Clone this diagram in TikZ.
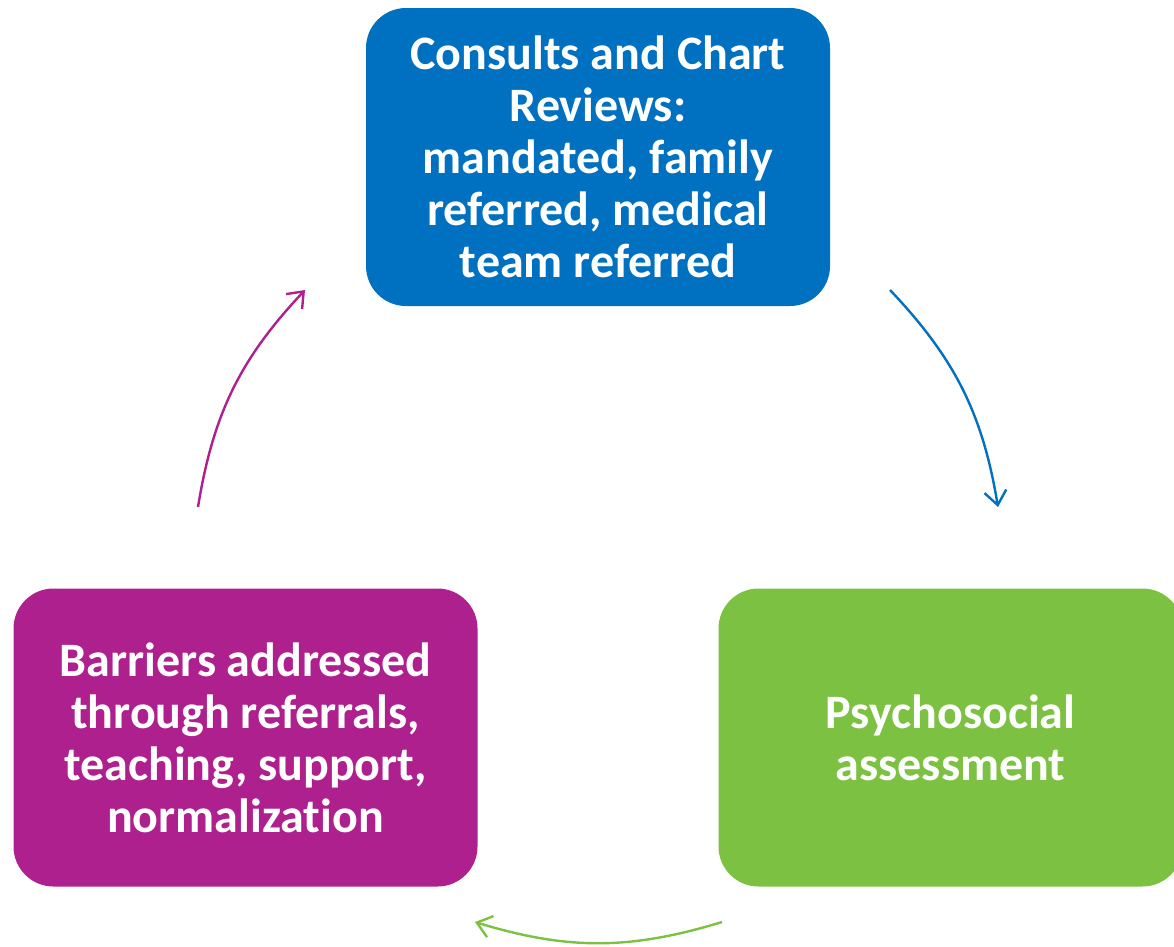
\documentclass[tikz,border=0pt]{standalone}
\usepackage{fontspec}
\setmainfont[Ligatures=NoCommon]{Carlito}
\usetikzlibrary{arrows.meta}
\definecolor{c0070c0}{RGB}{0,112,192}
\definecolor{cae208e}{RGB}{174,32,142}
\definecolor{c7cc142}{RGB}{124,193,66}

\tikzset{
  stagebox/.style={rounded corners=40pt, minimum width=464pt, minimum height=298pt,
    text=white, align=center, inner sep=0pt,
    font=\fontsize{48}{52}\selectfont\bfseries},
  cyclearrow/.style={line width=2.4pt, -{Straight Barb[length=14pt, width=22pt, line width=2.4pt]}}
}

\begin{document}
\begin{tikzpicture}[x=1pt, y=-1pt]
  \clip (0,0) rectangle (1174,946);
  % the three stages
  \node[stagebox, fill=c0070c0] (consults) at (598,157)
    {Consults and Chart\\Reviews:\\mandated, family\\referred, medical\\team referred};
  \node[stagebox, fill=c7cc142] (assess) at (950.5,737.5)
    {Psychosocial\\assessment};
  \node[stagebox, fill=cae208e] (barriers) at (245.5,737.5)
    {Barriers addressed\\through referrals,\\teaching, support,\\normalization};
  % arrow ends
  \coordinate (a1) at (890,290);
  \coordinate (a2) at (998,507);
  \coordinate (b1) at (722,922);
  \coordinate (b2) at (475,922);
  \coordinate (c1) at (198,507);
  \coordinate (c2) at (305,290);
  \draw[cyclearrow, draw=c0070c0] (a1) to[bend left=17] (a2);
  \draw[cyclearrow, draw=c7cc142] (b1) to[bend left=17] (b2);
  \draw[cyclearrow, draw=cae208e] (c1) to[bend left=17] (c2);
\end{tikzpicture}
\end{document}
